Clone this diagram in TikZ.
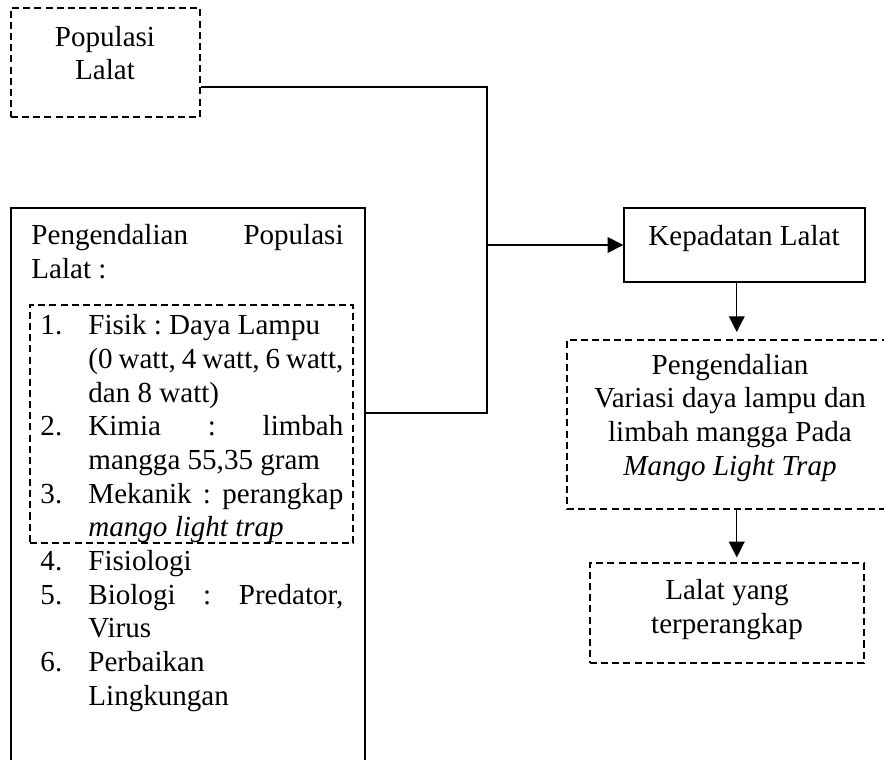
\documentclass[tikz,border=0pt]{standalone}
\usepackage{fontspec}
\setmainfont{Liberation Serif}
\usetikzlibrary{arrows.meta}
\frenchspacing
\newcommand{\lnum}[1]{\makebox[19.8pt][l]{#1}}
\newcommand{\lind}{\hspace*{19.8pt}}
\newcommand{\jline}[1]{\makebox[105.3pt][s]{#1}}
\newcommand{\wsp}{\spaceskip=3pt plus 3pt minus 1pt\relax}
\begin{document}
\begin{tikzpicture}[
    x=0.413pt, y=-0.413pt,
    every node/.style={font=\fontsize{12}{13.9}\selectfont},
    box/.style={rectangle, draw, line width=0.6pt, inner sep=0},
    dbox/.style={rectangle, draw, line width=0.6pt, dash pattern=on 2.9pt off 1.7pt, inner sep=0},
    txt/.style={inner sep=0, anchor=base, align=center},
    link/.style={line width=0.5pt},
    flow/.style={-{Triangle[length=6.5pt,width=6.5pt]}, line width=0.5pt}
]
    \useasboundingbox (0,0) rectangle (884,760);

    \node[dbox, minimum width=78.1pt, minimum height=45pt] (pop) at (105.5,62.5) {};
    \node[txt] (poptxt) at (105,80) {Populasi\\Lalat};

    \node[box, minimum width=146.2pt, minimum height=240.4pt] (ctrl) at (188,499) {};
    \node[txt, anchor=base west, text width=128.9pt, align=left] (ctrltitle) at (31,245)
        {\wsp\makebox[\linewidth][s]{Pengendalian Populasi}\\Lalat :};
    \node[dbox, minimum width=133.4pt, minimum height=98.3pt] (fisik) at (191.5,424) {};
    \node[txt, anchor=base west, text width=135pt, align=left] (items) at (40,335) {%
        \wsp
        \lnum{1.}Fisik : Daya Lampu\\
        \lind\jline{(0 watt, 4 watt, 6 watt,}\\
        \lind dan 8 watt)\\
        \lnum{2.}\jline{Kimia : limbah}\\
        \lind mangga 55,35 gram\\
        \lnum{3.}\jline{Mekanik : perangkap}\\
        \lind\textit{mango light trap}\\
        \lnum{4.}Fisiologi\\
        \lnum{5.}\jline{Biologi : Predator,}\\
        \lind Virus\\
        \lnum{6.}Perbaikan\\
        \lind Lingkungan};

    \node[box, minimum width=99.5pt, minimum height=30.6pt] (kep) at (744.5,245) {};
    \node[txt] (keptxt) at (744,246) {Kepadatan Lalat};

    \node[dbox, minimum width=139.6pt, minimum height=69.8pt] (peng) at (736,424.5) {};
    \node[txt] (pengtxt) at (730,475)
        {Pengendalian\\Variasi daya lampu dan\\limbah mangga Pada\\\textit{Mango Light Trap}};

    \node[dbox, minimum width=113.2pt, minimum height=41.3pt] (lal) at (727,613) {};
    \node[txt] (laltxt) at (727,633) {Lalat yang\\terperangkap};

    % garis penghubung
    \coordinate (jx) at (487,87);
    \coordinate (jy) at (487,413);
    \draw[link] (pop.east |- jx) -- (jx) -- (jy) -- (ctrl.east |- jy);
    \draw[flow] (jx |- kep) -- (kep);
    \draw[flow, shorten >=3pt] ([xshift=-3.2pt]kep.south) -- ([xshift=-3.2pt]kep.south |- peng.north);
    \draw[flow, shorten >=2pt] ([xshift=-3.2pt]kep.south |- peng.south) -- ([xshift=-3.2pt]kep.south |- lal.north);
\end{tikzpicture}
\end{document}
